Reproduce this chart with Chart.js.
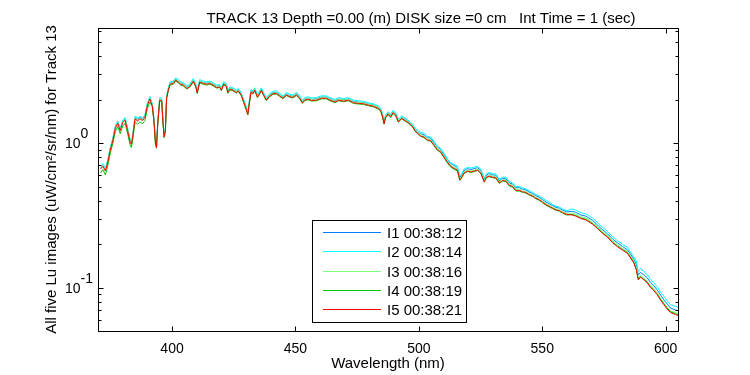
<!DOCTYPE html>
<html>
<head>
<meta charset="utf-8">
<script src="https://cdn.jsdelivr.net/npm/chart.js@4/dist/chart.umd.min.js"></script>
<style>
  body { margin: 0; background: #fff; }
</style>
</head>
<body>
<canvas id="spectrum" width="750" height="375"></canvas>
<script>
// wavelength grid (nm)
var wavelength = [371,372,373,374,375,376,377,378,379,380,381,382,383,383.5,384,385,386,387,388,389,
  390,391,392,392.7,393.3,393.7,394.2,395,395.8,396.3,396.8,397.3,397.8,398.5,399.2,400.5,401.5,402.5,403.5,404.5,
  406,407.2,408.6,409.6,410.2,411.2,412.6,414,415.3,416.6,418,419.3,420,420.9,422,422.6,423.4,424.7,426,426.8,
  428,429,430.1,430.7,431.3,432,432.8,433.5,434.6,435.5,436.2,437.1,438.2,439.6,440.9,442.3,443.6,445,446.3,447.7,
  449,450.4,451.7,452.8,453.7,455,456.5,458.5,460.5,462.5,464,466,467.5,469.5,471.5,473.5,475.5,477.5,479.5,481.5,
  483.5,484.5,485.2,485.9,486.5,487.6,488.6,489.5,490.6,491.7,493,494.4,496,497.4,498.4,499.4,500.7,502.1,503.4,504.8,
  506.1,507.5,508.8,510.2,511.5,512.9,514.2,515.6,516.6,517.4,518.3,519.7,521.1,522.4,523.8,525.1,526.5,527.4,528.5,529.9,
  531.2,532.6,533.9,535.3,536.6,538,539.3,540.7,542,543.4,544.7,546.1,547.4,548.8,550.1,551.5,552.8,554.2,555.5,557,
  558.2,560,562,563.6,565.6,567.6,570.3,572.3,574.3,576.4,578.4,580.4,582.4,584.4,585.8,587.1,588.1,588.9,589.8,591.2,
  592.5,593.9,595.2,596.6,597.9,599.3,600.6,602,604,605];

// I1 00:38:12 (blue)
var lu1 = [0.67,0.70,0.65,0.755,0.92,1.06,1.29,1.40,1.24,1.41,1.47,1.24,1.04,1.00,1.10,1.50,1.45,1.50,1.46,1.53,
  1.86,2.06,1.84,1.43,1.00,0.95,1.38,2.02,2.00,1.43,1.12,1.24,2.09,2.37,2.60,2.63,2.77,2.69,2.60,2.57,
  2.43,2.51,2.73,2.52,2.26,2.69,2.63,2.60,2.63,2.57,2.47,2.49,2.37,2.61,2.53,2.27,2.40,2.37,2.27,2.35,
  2.19,1.97,1.73,1.61,1.92,2.31,2.24,2.37,2.12,2.24,2.37,2.19,2.02,2.16,2.23,2.24,2.16,2.08,2.19,2.13,
  2.11,2.19,2.08,1.94,2.02,2.05,2.01,2.02,2.08,2.08,2.02,1.96,2.02,1.99,2.02,1.94,1.92,1.91,1.87,1.84,
  1.77,1.71,1.58,1.39,1.53,1.62,1.55,1.65,1.59,1.43,1.51,1.46,1.40,1.33,1.24,1.19,1.16,1.14,1.09,1.08,
  1.01,0.94,0.90,0.83,0.77,0.72,0.70,0.68,0.58,0.60,0.645,0.665,0.655,0.665,0.675,0.645,0.56,0.60,0.615,0.60,
  0.60,0.55,0.57,0.565,0.53,0.52,0.49,0.49,0.48,0.473,0.458,0.447,0.432,0.421,0.406,0.39,0.38,0.369,0.359,0.354,
  0.343,0.333,0.337,0.331,0.318,0.312,0.292,0.272,0.252,0.236,0.217,0.204,0.193,0.183,0.170,0.157,0.144,0.122,0.127,0.122,
  0.117,0.108,0.103,0.096,0.089,0.082,0.077,0.072,0.070,0.069];

// I2 00:38:14 (cyan)
var lu2 = [0.69,0.72,0.67,0.77,0.94,1.08,1.31,1.42,1.27,1.44,1.50,1.27,1.06,1.02,1.12,1.53,1.48,1.53,1.49,1.56,
  1.89,2.10,1.87,1.46,1.02,0.97,1.40,2.06,2.04,1.46,1.14,1.27,2.13,2.41,2.65,2.68,2.83,2.75,2.65,2.62,
  2.48,2.56,2.79,2.57,2.31,2.75,2.68,2.65,2.68,2.62,2.52,2.54,2.41,2.66,2.58,2.32,2.44,2.41,2.32,2.39,
  2.24,2.01,1.77,1.64,1.96,2.35,2.29,2.41,2.16,2.29,2.41,2.24,2.06,2.20,2.28,2.29,2.20,2.12,2.24,2.17,
  2.15,2.24,2.12,1.98,2.06,2.09,2.05,2.06,2.12,2.12,2.06,2.00,2.06,2.03,2.06,1.98,1.96,1.94,1.90,1.87,
  1.81,1.75,1.61,1.41,1.56,1.65,1.58,1.68,1.62,1.46,1.54,1.49,1.42,1.35,1.27,1.22,1.19,1.17,1.11,1.10,
  1.03,0.95,0.92,0.85,0.78,0.73,0.71,0.69,0.59,0.615,0.66,0.68,0.67,0.68,0.69,0.66,0.57,0.615,0.625,0.615,
  0.61,0.56,0.58,0.58,0.54,0.53,0.50,0.50,0.49,0.48,0.47,0.455,0.44,0.43,0.415,0.40,0.39,0.375,0.365,0.36,
  0.35,0.34,0.35,0.343,0.33,0.323,0.303,0.283,0.262,0.245,0.226,0.211,0.200,0.190,0.176,0.163,0.152,0.129,0.135,0.129,
  0.123,0.114,0.108,0.101,0.093,0.087,0.081,0.076,0.074,0.073];

// I3 00:38:16 (light green)
var lu3 = [0.67,0.70,0.65,0.75,0.91,1.06,1.28,1.39,1.24,1.40,1.46,1.24,1.04,0.99,1.10,1.49,1.44,1.49,1.45,1.52,
  1.85,2.05,1.83,1.42,0.99,0.94,1.37,2.01,1.99,1.42,1.12,1.24,2.08,2.35,2.59,2.62,2.76,2.68,2.59,2.56,
  2.42,2.50,2.72,2.51,2.25,2.68,2.62,2.59,2.62,2.56,2.46,2.48,2.35,2.60,2.52,2.26,2.39,2.35,2.26,2.33,
  2.18,1.96,1.73,1.60,1.91,2.29,2.23,2.35,2.11,2.23,2.35,2.18,2.01,2.15,2.22,2.23,2.15,2.07,2.18,2.12,
  2.10,2.18,2.07,1.93,2.01,2.04,2.00,2.01,2.07,2.07,2.01,1.95,2.01,1.98,2.01,1.93,1.91,1.90,1.86,1.83,
  1.77,1.71,1.57,1.38,1.52,1.61,1.54,1.64,1.58,1.42,1.50,1.45,1.39,1.32,1.24,1.19,1.14,1.12,1.07,1.06,
  0.985,0.915,0.885,0.815,0.75,0.70,0.68,0.66,0.565,0.59,0.63,0.65,0.64,0.65,0.66,0.63,0.55,0.59,0.60,0.59,
  0.585,0.54,0.56,0.555,0.52,0.51,0.48,0.48,0.468,0.463,0.448,0.438,0.422,0.412,0.397,0.382,0.372,0.361,0.351,0.346,
  0.336,0.326,0.327,0.321,0.309,0.303,0.283,0.265,0.245,0.230,0.211,0.198,0.187,0.178,0.165,0.152,0.137,0.116,0.122,0.116,
  0.111,0.103,0.098,0.092,0.084,0.078,0.073,0.069,0.067,0.066];

// I4 00:38:19 (green)
var lu4 = [0.62,0.655,0.60,0.70,0.855,0.99,1.20,1.30,1.16,1.31,1.37,1.16,0.97,0.93,1.03,1.40,1.35,1.40,1.36,1.43,
  1.73,1.92,1.78,1.39,0.97,0.92,1.34,1.96,1.94,1.39,1.09,1.21,2.03,2.30,2.52,2.55,2.69,2.61,2.52,2.49,
  2.36,2.44,2.65,2.45,2.20,2.61,2.55,2.52,2.55,2.49,2.40,2.42,2.30,2.53,2.46,2.21,2.33,2.30,2.21,2.28,
  2.13,1.91,1.68,1.56,1.86,2.24,2.18,2.30,2.06,2.18,2.30,2.13,1.96,2.10,2.17,2.18,2.10,2.02,2.13,2.07,
  2.05,2.13,2.02,1.88,1.96,1.99,1.95,1.96,2.02,2.02,1.96,1.90,1.96,1.93,1.96,1.88,1.86,1.85,1.81,1.78,
  1.72,1.66,1.53,1.35,1.49,1.57,1.50,1.60,1.54,1.39,1.47,1.42,1.36,1.29,1.21,1.16,1.11,1.09,1.04,1.03,
  0.96,0.89,0.86,0.79,0.73,0.68,0.66,0.64,0.55,0.575,0.615,0.635,0.625,0.635,0.645,0.615,0.535,0.575,0.585,0.575,
  0.57,0.525,0.545,0.54,0.505,0.495,0.465,0.465,0.455,0.45,0.436,0.426,0.411,0.401,0.386,0.371,0.361,0.351,0.342,0.337,
  0.327,0.317,0.321,0.315,0.303,0.297,0.278,0.26,0.24,0.225,0.207,0.194,0.184,0.175,0.162,0.149,0.134,0.114,0.119,0.114,
  0.109,0.101,0.096,0.09,0.083,0.077,0.072,0.068,0.066,0.065];

// I5 00:38:21 (red)
var lu5 = [0.66,0.69,0.64,0.74,0.90,1.04,1.26,1.37,1.22,1.38,1.44,1.22,1.02,0.98,1.08,1.47,1.42,1.47,1.43,1.50,
  1.82,2.02,1.80,1.40,0.98,0.93,1.35,1.98,1.96,1.40,1.10,1.22,2.05,2.32,2.55,2.58,2.72,2.64,2.55,2.52,
  2.38,2.46,2.68,2.47,2.22,2.64,2.58,2.55,2.58,2.52,2.42,2.44,2.32,2.56,2.48,2.23,2.35,2.32,2.23,2.30,
  2.15,1.93,1.70,1.58,1.88,2.26,2.20,2.32,2.08,2.20,2.32,2.15,1.98,2.12,2.19,2.20,2.12,2.04,2.15,2.09,
  2.07,2.15,2.04,1.90,1.98,2.01,1.97,1.98,2.04,2.04,1.98,1.92,1.98,1.95,1.98,1.90,1.88,1.87,1.83,1.80,
  1.74,1.68,1.55,1.36,1.50,1.59,1.52,1.62,1.56,1.40,1.48,1.43,1.37,1.30,1.22,1.17,1.12,1.10,1.05,1.04,
  0.97,0.90,0.87,0.80,0.74,0.69,0.67,0.65,0.555,0.58,0.62,0.64,0.63,0.64,0.65,0.62,0.54,0.58,0.59,0.58,
  0.575,0.53,0.55,0.545,0.51,0.50,0.47,0.47,0.46,0.455,0.44,0.43,0.415,0.405,0.39,0.375,0.365,0.355,0.345,0.34,
  0.33,0.32,0.318,0.312,0.30,0.294,0.275,0.257,0.238,0.223,0.205,0.192,0.182,0.173,0.16,0.148,0.133,0.113,0.118,0.113,
  0.108,0.100,0.095,0.089,0.082,0.076,0.071,0.067,0.065,0.064];

var seriesNames = ['I1 00:38:12', 'I2 00:38:14', 'I3 00:38:16', 'I4 00:38:19', 'I5 00:38:21'];
var seriesColors = ['#0080ff', '#00ffff', '#80ff80', '#00c800', '#ff0000'];
var seriesValues = [lu1, lu2, lu3, lu4, lu5];

var xTicks = [400, 450, 500, 550, 600];
var yMajor = [0.1, 1];
var yMajorExp = ['-1', '0'];
var yMinor = [0.06, 0.07, 0.08, 0.09, 0.2, 0.3, 0.4, 0.5, 0.6, 0.7, 0.8, 0.9, 2, 3, 4, 5, 6];

var titleText = 'TRACK 13 Depth =0.00 (m) DISK size =0 cm   Int Time = 1 (sec)';
var xTitle = 'Wavelength (nm)';
var yTitle = 'All five Lu images (uW/cm\u00b2/sr/nm) for Track 13';

var FONT = '"Liberation Sans", Arial, Helvetica, sans-serif';

// build datasets, red drawn on top
var datasets = [];
for (var s = 0; s < seriesValues.length; s++) {
  var pts = [];
  for (var k = 0; k < wavelength.length; k++) {
    pts.push({ x: wavelength[k], y: seriesValues[s][k] });
  }
  datasets.push({
    label: seriesNames[s],
    data: pts,
    borderColor: seriesColors[s],
    borderWidth: 1,
    pointRadius: 0,
    fill: false,
    tension: 0,
    order: seriesValues.length - s
  });
}

// matlab style box, inward ticks, labels and legend
var matlabAxes = {
  id: 'matlabAxes',
  afterDraw: function(chart) {
    var ctx = chart.ctx;
    var a = chart.chartArea;
    var xs = chart.scales.x, ys = chart.scales.y;
    var L = Math.round(a.left) + 0.5, R = Math.round(a.right) + 0.5;
    var T = Math.round(a.top) + 0.5, B = Math.round(a.bottom) + 0.5;
    ctx.save();
    ctx.strokeStyle = '#000';
    ctx.lineWidth = 1;
    ctx.strokeRect(L, T, R - L, B - T);

    ctx.beginPath();
    xTicks.forEach(function(v) {
      var px = Math.round(xs.getPixelForValue(v)) + 0.5;
      ctx.moveTo(px, B); ctx.lineTo(px, B - 5);
      ctx.moveTo(px, T); ctx.lineTo(px, T + 5);
    });
    yMajor.forEach(function(v) {
      var py = Math.round(ys.getPixelForValue(v)) + 0.5;
      ctx.moveTo(L, py); ctx.lineTo(L + 5, py);
      ctx.moveTo(R, py); ctx.lineTo(R - 5, py);
    });
    yMinor.forEach(function(v) {
      var py = Math.round(ys.getPixelForValue(v)) + 0.5;
      ctx.moveTo(L, py); ctx.lineTo(L + 3, py);
      ctx.moveTo(R, py); ctx.lineTo(R - 3, py);
    });
    ctx.stroke();

    ctx.fillStyle = '#000';
    // x tick labels
    ctx.font = '14px ' + FONT;
    ctx.textAlign = 'center';
    ctx.textBaseline = 'alphabetic';
    xTicks.forEach(function(v) {
      ctx.fillText(String(v), xs.getPixelForValue(v), B + 21);
    });
    // y tick labels 10^n
    yMajor.forEach(function(v, i) {
      var py = ys.getPixelForValue(v);
      ctx.textAlign = 'right';
      ctx.fillText('10', L - 18, py + 5);
      ctx.textAlign = 'left';
      ctx.fillText(yMajorExp[i], L - 18, py - 5);
    });

    // titles
    ctx.font = '15px ' + FONT;
    ctx.textAlign = 'center';
    ctx.fillText(titleText, 421, 23);
    ctx.fillText(xTitle, (a.left + a.right) / 2, 368);
    ctx.save();
    ctx.translate(56, (a.top + a.bottom) / 2);
    ctx.rotate(-Math.PI / 2);
    ctx.fillText(yTitle, 0, 0);
    ctx.restore();

    // legend box
    ctx.fillStyle = '#fff';
    ctx.fillRect(312.5, 220.5, 154, 102);
    ctx.strokeRect(312.5, 220.5, 154, 102);
    ctx.textAlign = 'left';
    chart.data.datasets.forEach(function(ds, i) {
      var ry = Math.round(232 + i * 19.25) + 0.5;
      ctx.strokeStyle = ds.borderColor;
      ctx.beginPath();
      ctx.moveTo(323, ry); ctx.lineTo(381, ry);
      ctx.stroke();
      ctx.fillStyle = '#000';
      ctx.fillText(ds.label, 387, ry + 5.5);
    });
    ctx.restore();
  }
};

var spectrumChart = new Chart(document.getElementById('spectrum'), {
  type: 'line',
  data: { datasets: datasets },
  options: {
    responsive: false,
    animation: false,
    layout: { padding: { left: 98, top: 28, right: 72, bottom: 44 } },
    plugins: {
      legend: { display: false },
      title: { display: false },
      tooltip: { enabled: false }
    },
    scales: {
      x: { type: 'linear', min: 370, max: 605, display: false },
      y: { type: 'logarithmic', min: 0.05, max: 6.25, display: false }
    }
  },
  plugins: [matlabAxes]
});
</script>
</body>
</html>
